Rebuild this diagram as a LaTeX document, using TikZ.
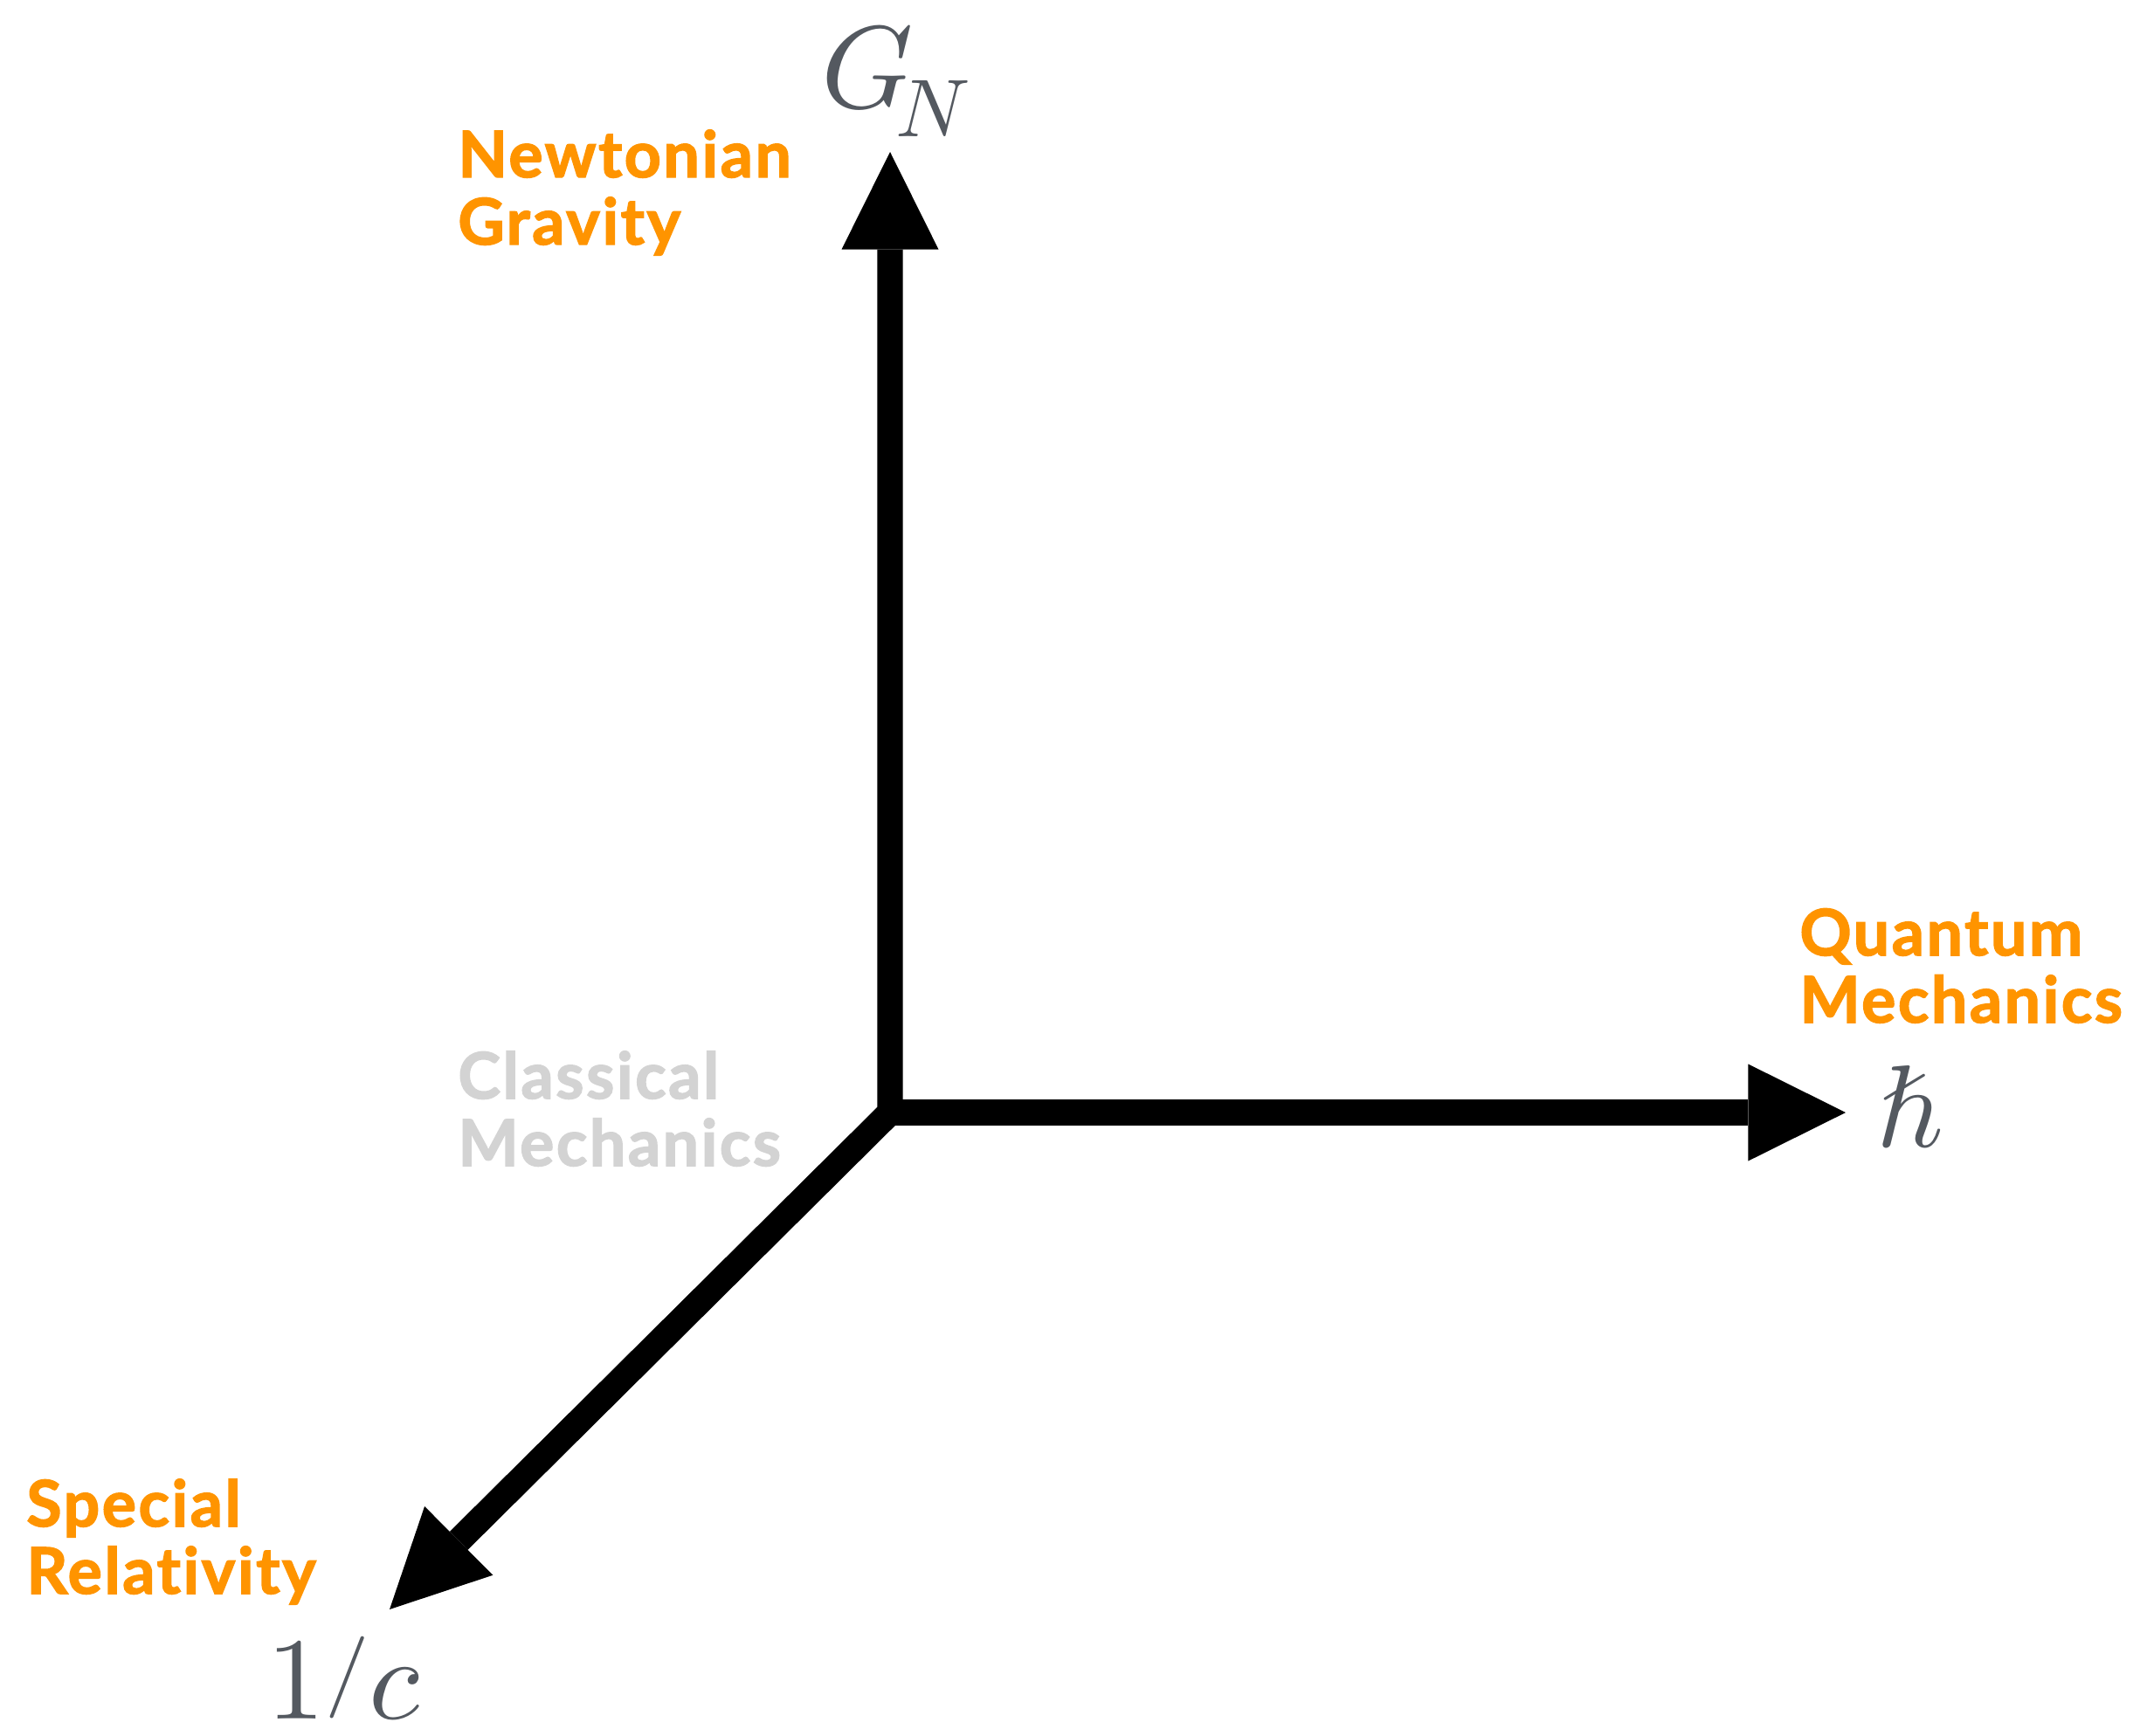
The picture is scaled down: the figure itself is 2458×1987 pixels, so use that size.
\documentclass[tikz,border=0pt]{standalone}
\usepackage{fontspec}
\usepackage{unicode-math}
\setmathfont{Latin Modern Math}
\newfontfamily\labfont{Lato}[Ligatures={NoCommon,NoRare}, LetterSpace=3.5, FakeBold=2]
\usetikzlibrary{arrows.meta}
\definecolor{labelorange}{RGB}{255,148,0}
\definecolor{classgray}{RGB}{211,211,211}
\definecolor{mathgray}{RGB}{84,89,96}
\newcommand{\shortslash}{\raisebox{0.175em}{\scalebox{0.75}[0.7]{$/$}}}
\tikzset{
  axisline/.style={line width=14.7pt, line join=miter, draw=black},
  tipshape/.tip={Triangle[length=55.8pt,width=55.5pt,line width=0pt 0 0]},
  orangelabel/.style={font=\labfont\bfseries\fontsize{36.7pt}{38.5pt}\selectfont, text=labelorange, inner sep=0pt, align=left, anchor=base west},
  graylabel/.style={orangelabel, text=classgray},
  mathlabel/.style={font=\fontsize{67pt}{70pt}\selectfont, text=mathgray, inner sep=0pt, anchor=base west}
}
\begin{document}
\begin{tikzpicture}[x=0.5pt,y=-0.5pt]
  \useasboundingbox (0,0) rectangle (2458,1987);
  \coordinate (O) at (1019,1274);
  \coordinate (Gtip) at (1019,174);
  \coordinate (Htip) at (2113,1274);
  \coordinate (Ctip) at (446,1843);
  \draw[axisline, {tipshape}-{tipshape}] (Gtip) -- (O) -- (Ctip);
  \draw[axisline, -{tipshape}] (O) -- (Htip);
  \node[mathlabel] (GN) at (940,123) {$G_{\kern-0.15em N}$};
  \node[mathlabel] (hb) at (2148,1313) {$\hbar$};
  \node[mathlabel] (oc) at (305,1968) {$1\mathord{\shortslash}c$};
  \node[orangelabel] (newton) at (524,280) {Newtonian\\Gravity};
  \node[orangelabel] (quantum) at (2060,1171) {Quantum\\Mechanics};
  \node[graylabel] (classical) at (524,1335) {Classical\\Mechanics};
  \node[orangelabel] (special) at (30,1825) {Special\\Relativity};
\end{tikzpicture}
\end{document}
